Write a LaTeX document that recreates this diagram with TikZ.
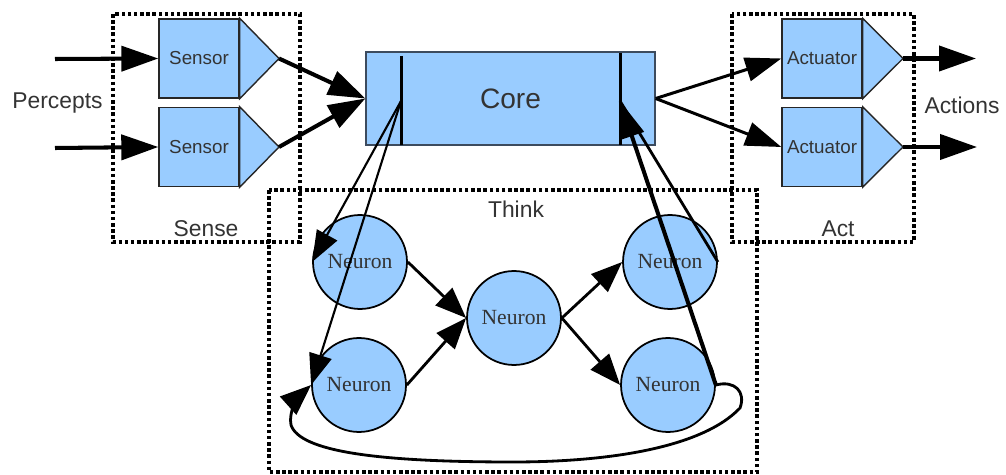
\documentclass[tikz,border=0pt]{standalone}
\usepackage{fontspec}
\setmainfont{Liberation Serif}
\setsansfont{Liberation Sans}
\usetikzlibrary{arrows.meta}

\definecolor{unitblue}{HTML}{99CCFF}
\definecolor{labelgray}{HTML}{333333}
\definecolor{coreedge}{HTML}{3C4B5E}

\begin{document}
\begin{tikzpicture}[x=0.02cm,y=-0.02cm,
        unitbox/.style={rectangle, draw=black!85, line width=0.8pt, fill=unitblue, inner sep=0pt,
            minimum width=1.6cm, minimum height=1.58cm, text=labelgray,
            font=\sffamily\fontsize{10.7}{12}\selectfont},
        corebox/.style={rectangle, draw=coreedge, line width=0.8pt, fill=unitblue, inner sep=0pt,
            minimum width=5.78cm, minimum height=1.86cm, text=labelgray,
            font=\sffamily\fontsize{16}{18}\selectfont},
        neuron/.style={circle, draw=black, line width=1pt, fill=unitblue, inner sep=0pt,
            minimum size=1.88cm, text=labelgray, font=\fontsize{12.3}{14}\selectfont},
        groupbox/.style={draw=black, line width=2.1pt, dash pattern=on 2pt off 1.5pt},
        grouplabel/.style={text=labelgray, font=\sffamily\fontsize{13}{15}\selectfont},
        feed/.style={-{Triangle[length=0.74cm,width=0.5cm]}, line width=2.3pt},
        feedthin/.style={-{Triangle[length=0.72cm,width=0.48cm]}, line width=1.7pt},
        wire/.style={-{Triangle[length=0.62cm,width=0.48cm]}, line width=1.6pt},
        fanwire/.style={-{Triangle[length=0.62cm,width=0.46cm]}, line width=1.2pt}]

    \useasboundingbox (0,0) rectangle (1006,475);

    %%% GROUPS

    % Dotted boxes
    \draw[groupbox] (113,14) rectangle (300,242);
    \draw[groupbox] (732,14) rectangle (914,242);
    \draw[groupbox] (269,190) rectangle (757,472);

    \node[grouplabel] (senselabel) at (206,229) {Sense};
    \node[grouplabel] (actlabel) at (838,229) {Act};
    \node[grouplabel] (thinklabel) at (516,209) {Think};

    %%% SENSE

    \node[grouplabel] (percepts) at (57.5,103) {Percepts};
    \coordinate (percept1) at (55,59);
    \coordinate (percept2) at (55,148);

    % Sensors
    \node[unitbox] (sensor1) at (199,58.5) {Sensor};
    \coordinate (sensor1tip) at (279,58.5);
    \filldraw[draw=black!85, line width=0.8pt, fill=unitblue] (sensor1.north east) -- (sensor1tip) -- (sensor1.south east) -- cycle;
    \node[unitbox] (sensor2) at (199,147) {Sensor};
    \coordinate (sensor2tip) at (279,147);
    \filldraw[draw=black!85, line width=0.8pt, fill=unitblue] (sensor2.north east) -- (sensor2tip) -- (sensor2.south east) -- cycle;

    %%% CORE

    \node[corebox] (core) at (510.5,98.5) {Core};
    \draw[line width=1.7pt] (401,56) -- (401,145);
    \draw[line width=1.7pt] (620,53) -- (620,145);
    \coordinate (corein) at (401,101);
    \coordinate (coreout) at (620,101);

    \draw[feed] (percept1) -- (sensor1.west);
    \draw[feed] (percept2) -- (sensor2.west);
    \draw[feed] (sensor1tip) -- (core.west);
    \draw[feed] (sensor2tip) -- (core.west);

    %%% ACT

    % Actuators
    \node[unitbox] (actuator1) at (822,58.5) {Actuator};
    \coordinate (actuator1tip) at (903,58.5);
    \filldraw[draw=black!85, line width=0.8pt, fill=unitblue] (actuator1.north east) -- (actuator1tip) -- (actuator1.south east) -- cycle;
    \node[unitbox] (actuator2) at (822,147) {Actuator};
    \coordinate (actuator2tip) at (903,147);
    \filldraw[draw=black!85, line width=0.8pt, fill=unitblue] (actuator2.north east) -- (actuator2tip) -- (actuator2.south east) -- cycle;

    \node[grouplabel] (actions) at (962,105) {Actions};
    \coordinate (action1) at (976,58.5);
    \coordinate (action2) at (977,147);

    \draw[feedthin] (core.east) -- (actuator1.west);
    \draw[feedthin] (core.east) -- (actuator2.west);
    \draw[feed] (actuator1tip) -- (action1);
    \draw[feed] (actuator2tip) -- (action2);

    %%% THINK

    % Neurons
    \node[neuron] (ntopleft) at (360,262) {Neuron};
    \node[neuron] (nbotleft) at (359,385) {Neuron};
    \node[neuron] (ncenter) at (514,318) {Neuron};
    \node[neuron] (ntopright) at (670,262) {Neuron};
    \node[neuron] (nbotright) at (668,385) {Neuron};

    \draw[wire] (ntopleft.east) -- (ncenter.west);
    \draw[wire] (nbotleft.east) -- (ncenter.west);
    \draw[wire] (ncenter.east) -- (ntopright.west);
    \draw[wire] (ncenter.east) -- (nbotright.west);

    % Core to neurons and back
    \draw[fanwire] (corein) -- (ntopleft.west);
    \draw[fanwire] (corein) -- (nbotleft.west);
    \draw[line width=1.6pt] (ntopright.east) -- (coreout);
    \draw[feed] (nbotright.east) -- (coreout);

    % Loop back
    \draw[wire] (nbotright.east) .. controls (735,380) and (746,392) .. (740,408)
        .. controls (700,450) and (600,462) .. (513,462)
        .. controls (380,462) and (300,452) .. (291,425)
        .. controls (288,412) and (300,395) .. (nbotleft.west);

\end{tikzpicture}
\end{document}
